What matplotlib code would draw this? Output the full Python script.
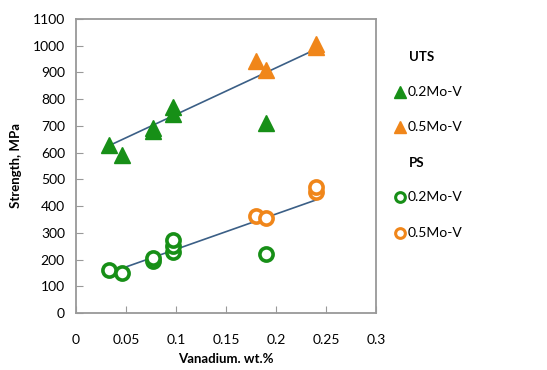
import numpy as np
import matplotlib
matplotlib.use("Agg")
import matplotlib.pyplot as plt
from matplotlib.lines import Line2D

plt.rcParams['font.family'] = ['Lato', 'DejaVu Sans']

# UTS data
uts_02_v = [0.033, 0.046, 0.077, 0.077, 0.097, 0.097, 0.190]
uts_02 = [630, 592, 680, 692, 745, 770, 712]
uts_05_v = [0.180, 0.190, 0.240, 0.240]
uts_05 = [941, 910, 995, 1008]

# PS data
ps_02_v = [0.033, 0.046, 0.077, 0.077, 0.097, 0.097, 0.097, 0.190]
ps_02 = [162, 150, 196, 206, 230, 250, 272, 222]
ps_05_v = [0.180, 0.190, 0.240, 0.240]
ps_05 = [362, 355, 454, 472]

# trend lines (endpoints)
fit_v = [0.033, 0.240]
uts_fit = [626, 987]
ps_fit = [150, 423]

green = '#178f17'
orange = '#f0861a'
line_col = '#3b5f86'

fig = plt.figure(figsize=(5.47, 3.70), dpi=100)
ax = fig.add_axes([76 / 547, 1 - 313 / 370, 300 / 547, 294 / 370])

ax.plot(fit_v, uts_fit, color=line_col, lw=1.2, zorder=2)
ax.plot(fit_v, ps_fit, color=line_col, lw=1.2, zorder=2)

ax.plot(uts_02_v, uts_02, '^', color=green, ms=11, mec=green, ls='none', zorder=3)
ax.plot(uts_05_v, uts_05, '^', color=orange, ms=11, mec=orange, ls='none', zorder=3)
ax.plot(ps_02_v, ps_02, 'o', mfc='white', mec=green, mew=2.6, ms=9.5, ls='none', zorder=3)
ax.plot(ps_05_v, ps_05, 'o', mfc='white', mec=orange, mew=2.6, ms=9.5, ls='none', zorder=3)

ax.set_xlim(0, 0.3)
ax.set_ylim(0, 1100)
ax.set_xticks([0, 0.05, 0.1, 0.15, 0.2, 0.25, 0.3])
ax.set_xticklabels(['0', '0.05', '0.1', '0.15', '0.2', '0.25', '0.3'])
ax.set_yticks(range(0, 1101, 100))
ax.tick_params(direction='in', length=5, color='#999999', labelsize=10)
ax.tick_params(axis='x', pad=15)
ax.tick_params(axis='y', pad=8)
for s in ax.spines.values():
    s.set_color('#999999')
    s.set_linewidth(1.3)

ax.set_xlabel('Vanadium. wt.%', fontsize=9.5, fontweight='bold', labelpad=5)
ax.set_ylabel('Strength, MPa', fontsize=9.5, fontweight='bold', labelpad=8)

# legend drawn by hand
def px(x, y):
    return x / 547, 1 - y / 370

entries = [
    (57, None, 'UTS'),
    (92, ('^', green, green), '0.2Mo-V'),
    (127, ('^', orange, orange), '0.5Mo-V'),
    (163, None, 'PS'),
    (197, ('o', 'white', green), '0.2Mo-V'),
    (233, ('o', 'white', orange), '0.5Mo-V'),
]
for y, mk, label in entries:
    if mk is None:
        fig.text(*px(409, y), label, fontsize=9.5, fontweight='bold', va='center', ha='left')
    else:
        m, fc, ec = mk
        x0, y0 = px(400, y)
        fig.add_artist(Line2D([x0], [y0], marker=m, mfc=fc, mec=ec,
                              ms=8 if m == '^' else 7, mew=2.2 if m == 'o' else 1,
                              transform=fig.transFigure))
        fig.text(*px(408, y), label, fontsize=10, va='center', ha='left')

fig.savefig('out.png', dpi=100)
